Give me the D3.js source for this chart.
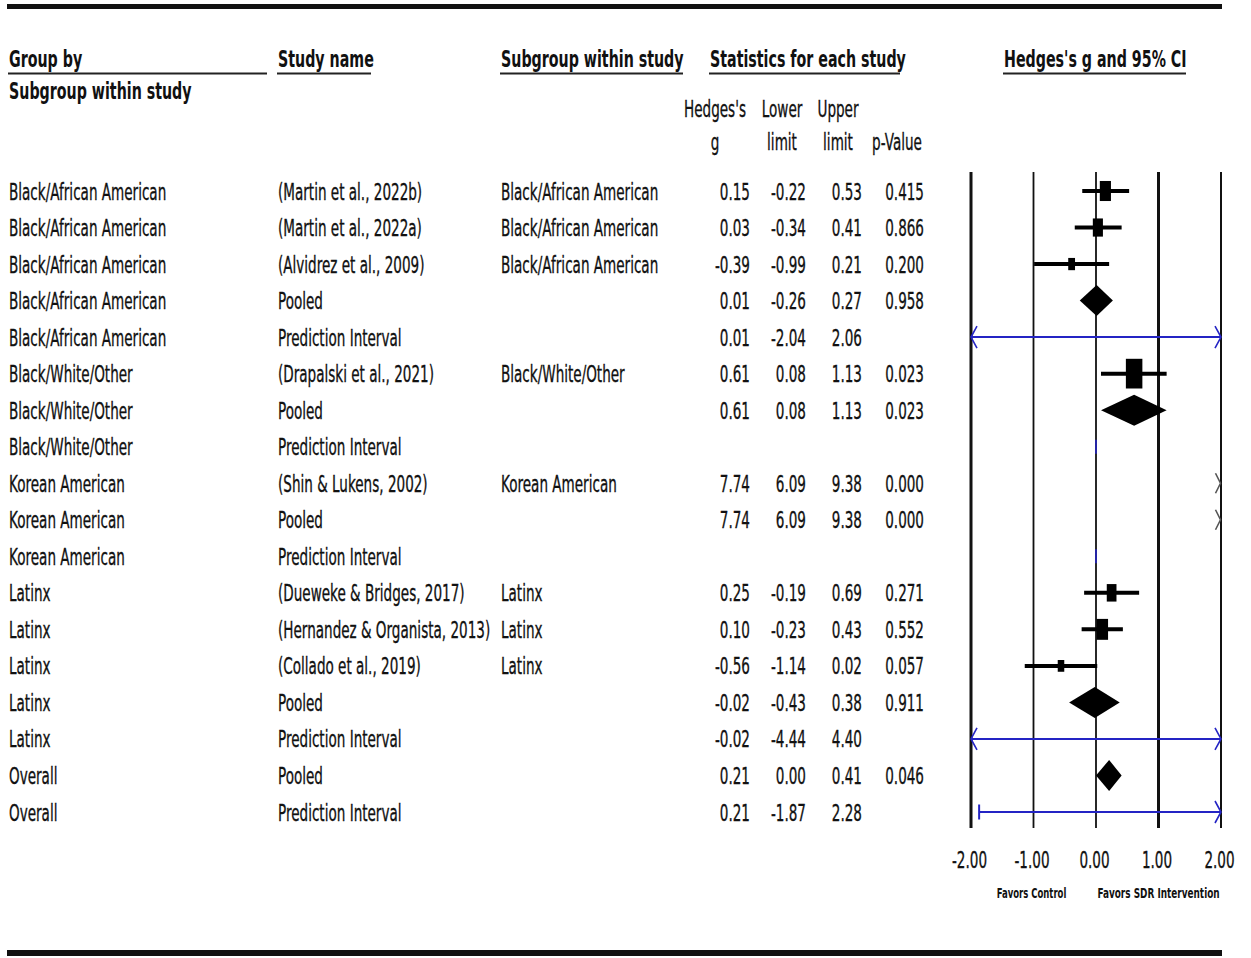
<!DOCTYPE html>
<html>
<head>
<meta charset="utf-8">
<script src="https://cdn.jsdelivr.net/npm/d3@7"></script>
<style>
  html, body { margin: 0; padding: 0; background: #fff; }
  svg { display: block; }
  text { font-family: "DejaVu Sans", Verdana, sans-serif; fill: #111; }
</style>
</head>
<body>
<svg id="chart" width="1251" height="958"></svg>
<script>
// ---- data ----------------------------------------------------------
const groupLabels = [
  "Black/African American", "Black/African American", "Black/African American",
  "Black/African American", "Black/African American",
  "Black/White/Other", "Black/White/Other", "Black/White/Other",
  "Korean American", "Korean American", "Korean American",
  "Latinx", "Latinx", "Latinx", "Latinx", "Latinx",
  "Overall", "Overall"
];
const studyNames = [
  "(Martin et al., 2022b)", "(Martin et al., 2022a)", "(Alvidrez et al., 2009)",
  "Pooled", "Prediction Interval",
  "(Drapalski et al., 2021)", "Pooled", "Prediction Interval",
  "(Shin & Lukens, 2002)", "Pooled", "Prediction Interval",
  "(Dueweke & Bridges, 2017)", "(Hernandez & Organista, 2013)", "(Collado et al., 2019)",
  "Pooled", "Prediction Interval",
  "Pooled", "Prediction Interval"
];
const subgroupNames = [
  "Black/African American", "Black/African American", "Black/African American", "", "",
  "Black/White/Other", "", "",
  "Korean American", "", "",
  "Latinx", "Latinx", "Latinx", "", "",
  "", ""
];
const rowKinds = [
  "study", "study", "study", "pooled", "interval",
  "study", "pooled", "interval",
  "study", "pooled", "interval",
  "study", "study", "study", "pooled", "interval",
  "pooled", "interval"
];
const hedgesG   = [0.15, 0.03, -0.39, 0.01, 0.01, 0.61, 0.61, null, 7.74, 7.74, null, 0.25, 0.10, -0.56, -0.02, -0.02, 0.21, 0.21];
const lowerLim  = [-0.22, -0.34, -0.99, -0.26, -2.04, 0.08, 0.08, null, 6.09, 6.09, null, -0.19, -0.23, -1.14, -0.43, -4.44, 0.00, -1.87];
const upperLim  = [0.53, 0.41, 0.21, 0.27, 2.06, 1.13, 1.13, null, 9.38, 9.38, null, 0.69, 0.43, 0.02, 0.38, 4.40, 0.41, 2.28];
const pValues   = [0.415, 0.866, 0.200, 0.958, null, 0.023, 0.023, null, 0.000, 0.000, null, 0.271, 0.552, 0.057, 0.911, null, 0.046, null];
// relative weight (%) of each study within its subgroup
const relWeights = [45.6, 37.4, 17.0, null, null, 100, null, null, 100, null, null, 34.7, 49.6, 15.7, null, null, null, null];
const axisTicks = [-2, -1, 0, 1, 2];
const favorLabels = ["Favors Control", "Favors SDR Intervention"];

// ---- setup ---------------------------------------------------------
const svg = d3.select("#chart");
const BLUE = "#2424c4";
const SX = 0.60;        // horizontal condensing of the regular face
const SXB = 0.63;       // horizontal condensing of the bold face
const FS = 22.6;        // body font size

const loc = d3.formatLocale({decimal: ".", thousands: ",", grouping: [3], currency: ["", ""], minus: "-"});
const f2 = loc.format(".2f");
const f3 = loc.format(".3f");

function label(parent, x, y, str, o = {}) {
  const sx = o.sx ?? (o.bold ? SXB : SX);
  const t = parent.append("text")
    .attr("transform", `translate(${x},${y}) scale(${sx},1)`)
    .attr("text-anchor", o.anchor || "start")
    .style("font-size", (o.size || FS) + "px")
    .style("font-weight", o.bold ? "bold" : "normal")
    .text(str);
  if (!o.bold) t.attr("stroke", "#111").attr("stroke-width", 0.35);
  return t;
}

const n = groupLabels.length;
const yRow = d3.scaleLinear().domain([0, n - 1]).range([191, 812]);
const x = d3.scaleLinear().domain([-2, 2]).range([971, 1221]);
const markSize = d3.scaleSqrt().domain([0, 100]).range([0, 16.5]);
const ASPECT = 1.8;     // marker height relative to width
const DIAMOND_H = 15.5; // half height of pooled diamonds

// ---- frame rules ---------------------------------------------------
svg.append("rect").attr("x", 7).attr("y", 4).attr("width", 1215).attr("height", 5).attr("fill", "#111");
svg.append("rect").attr("x", 7).attr("y", 950).attr("width", 1215).attr("height", 6).attr("fill", "#111");

// ---- headers -------------------------------------------------------
const hdr = svg.append("g");
const headerDefs = [
  {t: "Group by", x: 9, w: 259},
  {t: "Study name", x: 278, w: 94},
  {t: "Subgroup within study", x: 501, w: 183},
  {t: "Statistics for each study", x: 710, w: 191},
  {t: "Hedges's g and 95% CI", x: 1004, w: 183}
];
headerDefs.forEach(h => {
  label(hdr, h.x, 67, h.t, {bold: true});
  hdr.append("rect").attr("x", h.x - 1).attr("y", 72.5).attr("width", h.w).attr("height", 2).attr("fill", "#222");
});
label(hdr, 9, 99, "Subgroup within study", {bold: true});

const colHeads = [
  {x: 715, l1: "Hedges's", l2: "g"},
  {x: 782, l1: "Lower", l2: "limit"},
  {x: 838, l1: "Upper", l2: "limit"},
  {x: 897, l1: "", l2: "p-Value"}
];
colHeads.forEach(c => {
  if (c.l1) label(hdr, c.x, 117, c.l1, {anchor: "middle"});
  label(hdr, c.x, 150, c.l2, {anchor: "middle"});
});

// ---- table text ----------------------------------------------------
const tbl = svg.append("g");
for (let i = 0; i < n; i++) {
  const yb = yRow(i) + 8.5;
  label(tbl, 9, yb, groupLabels[i]);
  label(tbl, 278, yb, studyNames[i]);
  if (subgroupNames[i]) label(tbl, 501, yb, subgroupNames[i]);
  if (hedgesG[i] !== null) label(tbl, 750, yb, f2(hedgesG[i]), {anchor: "end"});
  if (lowerLim[i] !== null) label(tbl, 806, yb, f2(lowerLim[i]), {anchor: "end"});
  if (upperLim[i] !== null) label(tbl, 862, yb, f2(upperLim[i]), {anchor: "end"});
  if (pValues[i] !== null) label(tbl, 924, yb, f3(pValues[i]), {anchor: "end"});
}

// ---- forest plot ---------------------------------------------------
const plot = svg.append("g");
const yTop = 172, yBot = 828;
const refWidth = {"-2": 3, "-1": 1.8, "0": 1.8, "1": 3, "2": 2};
plot.selectAll("line.ref").data(axisTicks).join("line")
  .attr("class", "ref")
  .attr("x1", d => x(d)).attr("x2", d => x(d))
  .attr("y1", yTop).attr("y2", yBot)
  .attr("stroke", "#111")
  .attr("stroke-width", d => refWidth[String(d)]);

const [xMin, xMax] = x.domain();
function arrowLeft(g, px, py, color, dx = 6, dy = 11) {
  g.append("path").attr("d", `M${px + dx},${py - dy}L${px},${py}L${px + dx},${py + dy}`)
    .attr("fill", "none").attr("stroke", color).attr("stroke-width", 1.6);
}
function arrowRight(g, px, py, color, dx = 6, dy = 11) {
  g.append("path").attr("d", `M${px - dx},${py - dy}L${px},${py}L${px - dx},${py + dy}`)
    .attr("fill", "none").attr("stroke", color).attr("stroke-width", 1.6);
}

for (let i = 0; i < n; i++) {
  const yc = yRow(i);
  const kind = rowKinds[i];
  const est = hedgesG[i], lo = lowerLim[i], hi = upperLim[i];

  if (kind === "interval") {
    if (lo === null) {
      // no prediction interval available: short marker on the null line
      plot.append("line").attr("x1", x(0)).attr("x2", x(0))
        .attr("y1", yc - 7).attr("y2", yc + 7)
        .attr("stroke", BLUE).attr("stroke-width", 1.6);
      continue;
    }
    const a = Math.max(lo, xMin), b = Math.min(hi, xMax);
    plot.append("line").attr("x1", x(a)).attr("x2", x(b)).attr("y1", yc).attr("y2", yc)
      .attr("stroke", BLUE).attr("stroke-width", 2);
    if (lo < xMin) arrowLeft(plot, x(xMin), yc, BLUE);
    else plot.append("line").attr("x1", x(lo)).attr("x2", x(lo)).attr("y1", yc - 7.5).attr("y2", yc + 7.5)
      .attr("stroke", BLUE).attr("stroke-width", 2);
    if (hi > xMax) arrowRight(plot, x(xMax), yc, BLUE);
    else plot.append("line").attr("x1", x(hi)).attr("x2", x(hi)).attr("y1", yc - 7.5).attr("y2", yc + 7.5)
      .attr("stroke", BLUE).attr("stroke-width", 2);
    continue;
  }

  // estimate entirely outside the plotted range
  if (lo > xMax) { arrowRight(plot, x(xMax) - 0.5, yc, "#555", 5, 10); continue; }
  if (hi < xMin) { arrowLeft(plot, x(xMin) + 0.5, yc, "#555", 5, 10); continue; }

  if (kind === "study") {
    const a = Math.max(lo, xMin), b = Math.min(hi, xMax);
    plot.append("line").attr("x1", x(a)).attr("x2", x(b)).attr("y1", yc).attr("y2", yc)
      .attr("stroke", "#000").attr("stroke-width", 4);
    const w = markSize(relWeights[i]), h = w * ASPECT;
    plot.append("rect").attr("x", x(est) - w / 2).attr("y", yc - h / 2)
      .attr("width", w).attr("height", h).attr("fill", "#000");
  } else if (kind === "pooled") {
    plot.append("path")
      .attr("d", `M${x(lo)},${yc}L${x(est)},${yc - DIAMOND_H}L${x(hi)},${yc}L${x(est)},${yc + DIAMOND_H}Z`)
      .attr("fill", "#000");
  }
}

// ---- axis labels ---------------------------------------------------
const axis = svg.append("g").attr("transform", "translate(0,868)")
  .call(d3.axisBottom(x).tickValues(axisTicks).tickFormat(f2).tickSize(0));
axis.select(".domain").remove();
axis.selectAll("text")
  .attr("y", null).attr("dy", null)
  .attr("transform", `translate(-2,0) scale(${SX},1)`)
  .attr("fill", "#111")
  .attr("stroke", "#111").attr("stroke-width", 0.35)
  .style("font-size", FS + "px")
  .style("font-family", '"DejaVu Sans", Verdana, sans-serif');

label(svg, x(-1) - 2, 898, favorLabels[0], {bold: true, size: 13.5, anchor: "middle", sx: 0.63});
label(svg, x(1), 898, favorLabels[1], {bold: true, size: 13.5, anchor: "middle", sx: 0.66});
</script>
</body>
</html>
